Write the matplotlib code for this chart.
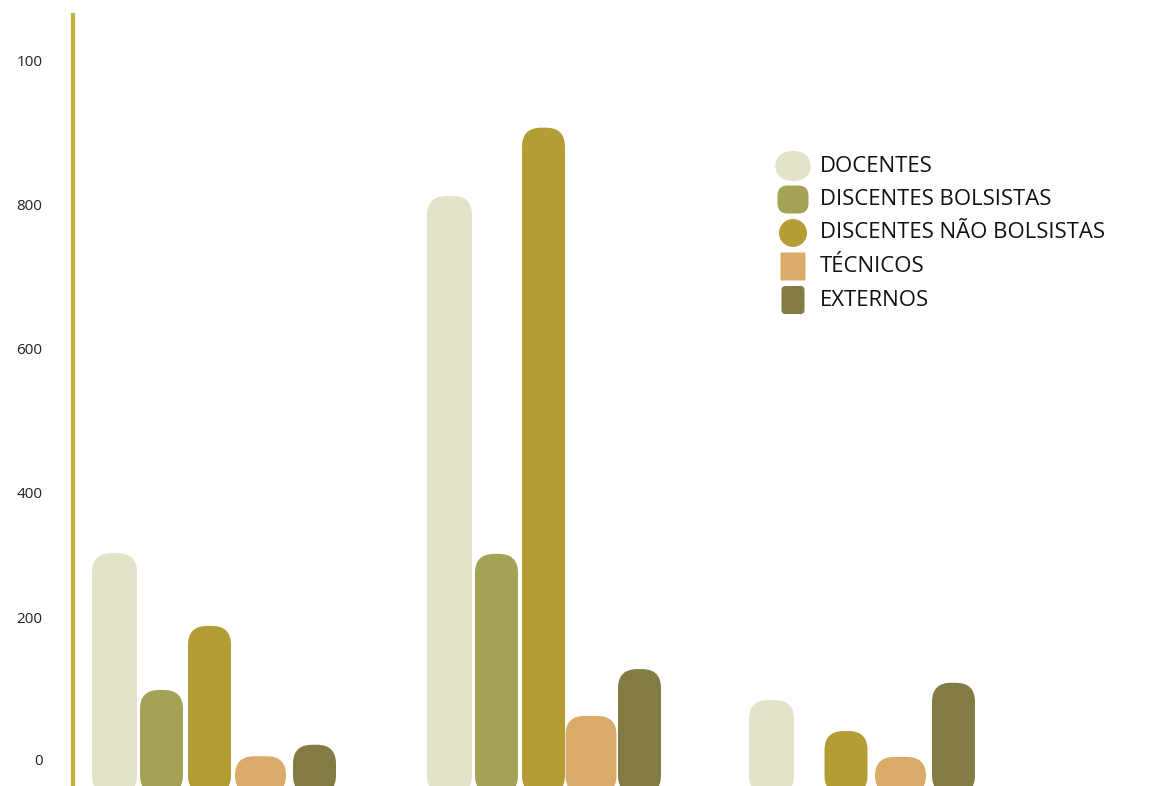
import matplotlib
matplotlib.use("Agg")
import matplotlib.pyplot as plt
from matplotlib.patches import FancyBboxPatch, Ellipse

# data
series = ["DOCENTES", "DISCENTES BOLSISTAS", "DISCENTES NÃO BOLSISTAS", "TÉCNICOS", "EXTERNOS"]
colors = ["#e3e3c9", "#a4a355", "#b59d36", "#dbab6a", "#827c44"]
group1 = [315, 125, 214, 33, 49]
group2 = [811, 314, 906, 89, 154]
group3 = [111, 0, 68, 32, 135]
tick_values = [28, 226, 400, 600, 800, 1000]
tick_labels = ["0", "200", "400", "600", "800", "100"]

W, H = 1153, 786
PX_PER_UNIT = 0.72
ZERO_PX = 780


def px_to_val(py):
    return (ZERO_PX - py) / PX_PER_UNIT


def fig_xy(x, y):
    return x / W, 1 - y / H


def rounded_bar(ax, xc, width, top, color, radius=19, bottom=-20):
    patch = FancyBboxPatch((xc - width / 2, bottom), width, top - bottom,
                           boxstyle=f"round,pad=0,rounding_size={radius}",
                           mutation_aspect=1 / PX_PER_UNIT,
                           fc=color, ec="none", clip_on=True)
    ax.add_patch(patch)


def main():
    plt.rcParams['font.family'] = ['Open Sans', 'DejaVu Sans']
    fig = plt.figure(figsize=(W / 100, H / 100), dpi=100)
    ax = fig.add_axes([73 / W, 0, 1 - 73 / W, 1])
    ax.set_xlim(73, W)
    ax.set_ylim(px_to_val(H), px_to_val(0))

    # bar layout (pixel centres) per group
    starts = [114.5, 449.5, 771.5]
    offsets = [[0, 47, 95, 146, 200],
               [0, 47, 94, 141.5, 190],
               [0, 37, 74.5, 129, 182]]
    widths = [45, 43, 43, 51, 43]
    for g, vals in enumerate([group1, group2, group3]):
        for i, v in enumerate(vals):
            if v <= 0:
                continue
            rounded_bar(ax, starts[g] + offsets[g][i], widths[i], v, colors[i])

    for s in ["top", "right", "bottom"]:
        ax.spines[s].set_visible(False)
    ax.spines["left"].set_color("#c4b13a")
    ax.spines["left"].set_linewidth(3)
    ax.spines["left"].set_bounds(px_to_val(H), px_to_val(15))
    ax.set_xticks([])
    ax.set_yticks(tick_values)
    ax.set_yticklabels(tick_labels)
    ax.tick_params(axis="y", length=0, pad=22, labelsize=11, labelcolor="#222222")

    # legend drawn by hand
    handle_sizes = [(36, 30, 18), (31, 28, 10), (28, 28, 14), (25, 28, 1), (23, 28, 4)]
    for i, name in enumerate(series):
        yc = 166 + i * 33.5
        w, h, r = handle_sizes[i]
        if i == 2:
            cx, cy = fig_xy(793, yc)
            patch = Ellipse((cx, cy), w / W, h / H, transform=fig.transFigure,
                            fc=colors[i], ec="none")
        else:
            x0, y0 = fig_xy(793 - w / 2, yc + h / 2)
            patch = FancyBboxPatch((x0, y0), w / W, h / H,
                                   boxstyle=f"round,pad=0,rounding_size={r / W}",
                                   mutation_aspect=W / H,
                                   transform=fig.transFigure, fc=colors[i], ec="none")
        fig.patches.append(patch)
        tx, ty = fig_xy(820, yc)
        fig.text(tx, ty, name, fontsize=15.9, color="#111111", va="center", ha="left")

    fig.savefig("out.png", dpi=100)


if __name__ == "__main__":
    main()
